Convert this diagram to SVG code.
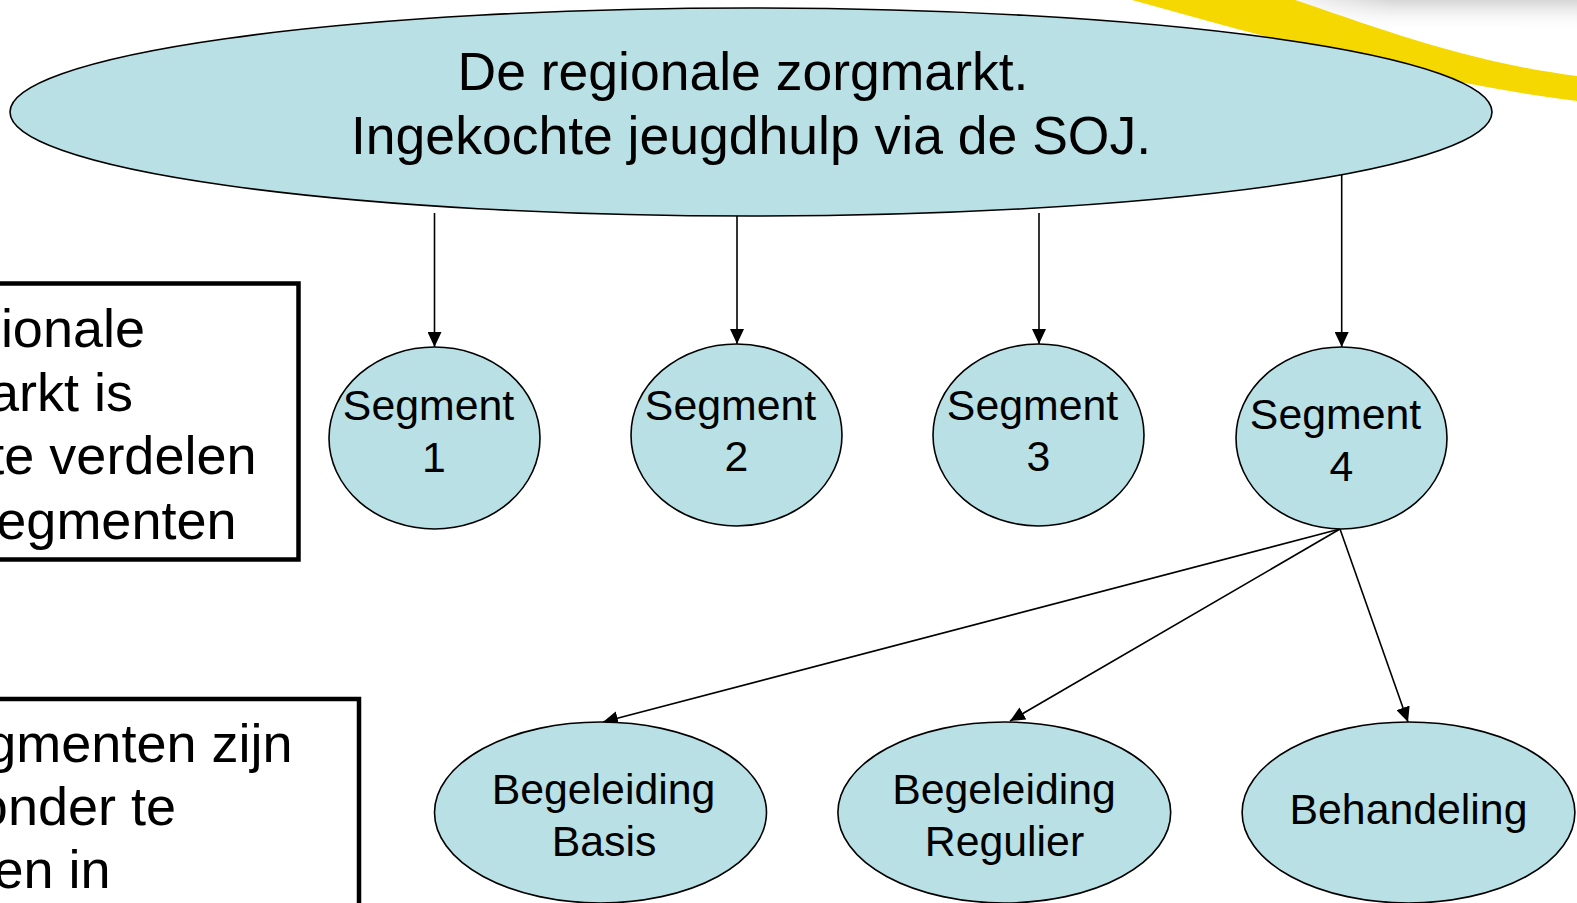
<svg xmlns="http://www.w3.org/2000/svg" width="1577" height="903" viewBox="0 0 1577 903">
  <defs>
    <linearGradient id="shade" x1="0" y1="0" x2="0" y2="1">
      <stop offset="0" stop-color="#d6d6d6"/>
      <stop offset="1" stop-color="#ffffff" stop-opacity="0"/>
    </linearGradient>
    <linearGradient id="shadeH" x1="0" y1="0" x2="1" y2="0">
      <stop offset="0" stop-color="#ffffff" stop-opacity="1"/>
      <stop offset="0.4" stop-color="#ffffff" stop-opacity="0"/>
    </linearGradient>
    <marker id="arr" markerUnits="userSpaceOnUse" markerWidth="15" markerHeight="14" refX="15" refY="7" orient="auto">
      <path d="M0,0 L15,7 L0,14 Z" fill="#000"/>
    </marker>
  </defs>
  <style>
    .node { fill: #b9e0e4; stroke: #000; stroke-width: 1.6; }
    .lbl { font-family: "Liberation Sans", Arial, sans-serif; fill: #000; }
    .t53 { font-size: 53.5px; }
    .t42 { font-size: 42.8px; text-anchor: middle; }
    .t54 { font-size: 54px; text-anchor: end; }
    .box { fill: #fff; stroke: #000; stroke-width: 4.5; }
    .conn { stroke: #000; stroke-width: 1.6; fill: none; marker-end: url(#arr); }
  </style>
  <rect width="1577" height="903" fill="#fff"/>

  <!-- background decoration -->
  <g id="decoration">
    <rect x="1270" y="0" width="307" height="32" fill="url(#shade)"/>
    <rect x="1270" y="0" width="307" height="32" fill="url(#shadeH)"/>
    <path d="M1132,0 L1295,0 C1370,25 1465,62 1577,76 L1577,101 C1440,84 1290,44 1132,0 Z" fill="#f5d800"/>
  </g>

  <g id="connectors">
    <line class="conn" x1="434.5" y1="213" x2="434.5" y2="347"/>
    <line class="conn" x1="737" y1="215" x2="737" y2="344"/>
    <line class="conn" x1="1039" y1="213" x2="1039" y2="344"/>
    <line class="conn" x1="1341.7" y1="175" x2="1341.7" y2="347"/>
    <line class="conn" x1="1340" y1="529" x2="603" y2="722"/>
    <line class="conn" x1="1340" y1="529" x2="1010" y2="721"/>
    <line class="conn" x1="1340" y1="529" x2="1408" y2="722"/>
  </g>

  <g id="top">
    <ellipse class="node" cx="751" cy="112" rx="741" ry="104"/>
    <text class="lbl t53" x="457.5" y="90">De regionale zorgmarkt.</text>
    <text class="lbl t53" x="351" y="154">Ingekochte jeugdhulp via de SOJ.</text>
  </g>

  <g id="box1">
    <rect class="box" x="-10" y="283.5" width="308.5" height="276"/>
    <text class="lbl t54" x="145" y="347">ionale</text>
    <text class="lbl t54" x="133" y="411">arkt is</text>
    <text class="lbl t54" x="256.5" y="474">te verdelen</text>
    <text class="lbl t54" x="236.5" y="539">egmenten</text>
  </g>

  <g id="box2">
    <rect class="box" x="-10" y="699" width="369" height="300"/>
    <text class="lbl t54" x="292.5" y="762">gmenten zijn</text>
    <text class="lbl t54" x="176" y="825">onder te</text>
    <text class="lbl t54" x="110.5" y="888">en in</text>
  </g>

  <g id="seg1">
    <ellipse class="node" cx="434.5" cy="438" rx="105.5" ry="91"/>
    <text class="lbl t42" x="428.5" y="420">Segment</text>
    <text class="lbl t42" x="434" y="472">1</text>
  </g>
  <g id="seg2">
    <ellipse class="node" cx="736.5" cy="435" rx="105.5" ry="91"/>
    <text class="lbl t42" x="730.5" y="420">Segment</text>
    <text class="lbl t42" x="736.5" y="471">2</text>
  </g>
  <g id="seg3">
    <ellipse class="node" cx="1038.5" cy="435" rx="105.5" ry="91"/>
    <text class="lbl t42" x="1032.5" y="420">Segment</text>
    <text class="lbl t42" x="1038.5" y="471">3</text>
  </g>
  <g id="seg4">
    <ellipse class="node" cx="1341.5" cy="438" rx="105.5" ry="91"/>
    <text class="lbl t42" x="1335.5" y="429">Segment</text>
    <text class="lbl t42" x="1341.5" y="481">4</text>
  </g>

  <g id="basis">
    <ellipse class="node" cx="600.5" cy="812.5" rx="166" ry="90.5"/>
    <text class="lbl t42" x="603.5" y="804">Begeleiding</text>
    <text class="lbl t42" x="604" y="856">Basis</text>
  </g>
  <g id="regulier">
    <ellipse class="node" cx="1004.3" cy="812.5" rx="166.4" ry="90.5"/>
    <text class="lbl t42" x="1004" y="804">Begeleiding</text>
    <text class="lbl t42" x="1004.5" y="856">Regulier</text>
  </g>
  <g id="behandeling">
    <ellipse class="node" cx="1408.5" cy="812.5" rx="166.4" ry="90.5"/>
    <text class="lbl t42" x="1408.5" y="824">Behandeling</text>
  </g>
</svg>
